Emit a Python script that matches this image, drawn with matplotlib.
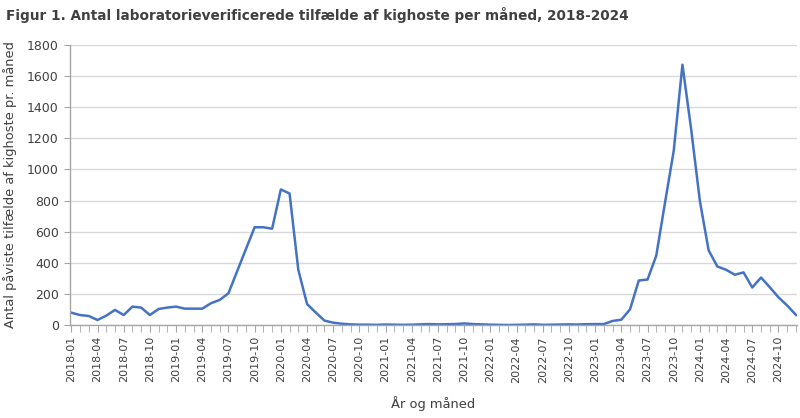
import matplotlib

matplotlib.use("Agg")

import matplotlib.pyplot as plt
import numpy as np

# monthly counts, 2018-01 .. 2024-12
years = [2018, 2019, 2020, 2021, 2022, 2023, 2024]
cases_2018 = [79, 64, 58, 32, 60, 97, 64, 118, 112, 64, 103, 112]
cases_2019 = [118, 105, 105, 105, 140, 161, 204, 346, 488, 628, 628, 619]
cases_2020 = [871, 845, 355, 135, 80, 28, 15, 8, 4, 2, 2, 1]
cases_2021 = [3, 2, 1, 2, 4, 6, 4, 5, 6, 10, 6, 4]
cases_2022 = [2, 1, 0, 1, 2, 4, 1, 2, 3, 4, 3, 5]
cases_2023 = [6, 6, 26, 34, 101, 286, 292, 445, 785, 1118, 1673, 1258]
cases_2024 = [796, 480, 376, 355, 323, 338, 241, 305, 243, 178, 125, 65]

months = [f"{y}-{m:02d}" for y in years for m in range(1, 13)]
cases = cases_2018 + cases_2019 + cases_2020 + cases_2021 + cases_2022 + cases_2023 + cases_2024

text_color = "#404040"
axis_color = "#A6A6A6"
grid_color = "#D9D9D9"
line_color = "#4472C4"

plt.rcParams["font.family"] = ["DejaVu Sans"]

fig = plt.figure(figsize=(8.0, 4.18), dpi=100)
ax = fig.add_axes([0.0875, 0.2225, 0.9085, 0.67])

x = np.arange(len(months))
ax.plot(x, cases, color=line_color, linewidth=1.8, solid_joinstyle="round")

ax.set_ylim(0, 1800)
ax.set_yticks(np.arange(0, 1801, 200))
ax.set_xlim(-0.15, len(months) - 0.9)
ax.set_xticks(x, minor=True)
ax.set_xticks(x[::3])
ax.set_xticklabels(months[::3], rotation=90)

ax.grid(True, axis="y", color=grid_color, linewidth=1.0)
ax.set_axisbelow(True)
for side in ("top", "right"):
    ax.spines[side].set_visible(False)
for side in ("left", "bottom"):
    ax.spines[side].set_color(axis_color)
    ax.spines[side].set_linewidth(1.0)

ax.tick_params(axis="x", which="both", length=5, color=axis_color, labelsize=8.0,
               labelcolor=text_color, pad=3)
ax.tick_params(axis="y", length=4, color=axis_color, labelsize=9.0,
               labelcolor=text_color, pad=4)

ax.set_ylabel("Antal påviste tilfælde af kighoste pr. måned", fontsize=9.4,
              color=text_color, labelpad=7)
ax.set_xlabel("År og måned", fontsize=9.4, color=text_color, labelpad=10)

fig.text(0.008, 0.965, "Figur 1. Antal laboratorieverificerede tilfælde af kighoste per måned, 2018-2024",
         fontsize=9.8, fontweight="bold", color=text_color, ha="left", va="center")

fig.savefig("out.png", dpi=100)
